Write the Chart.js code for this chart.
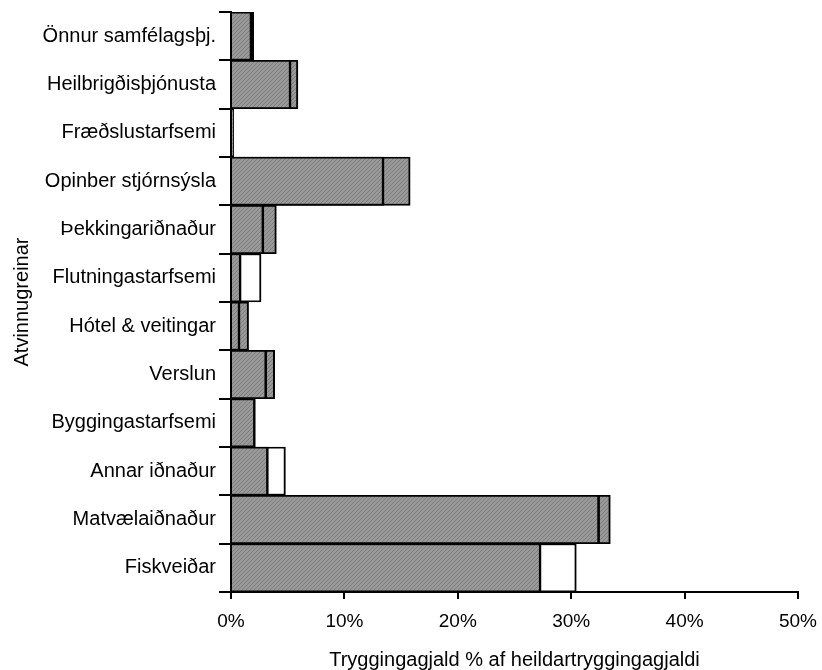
<!DOCTYPE html>
<html>
<head>
<meta charset="utf-8">
<script src="https://cdn.jsdelivr.net/npm/chart.js@4/dist/chart.umd.min.js"></script>
<style>
  html, body { margin: 0; padding: 0; background: #ffffff; }
  #wrap { width: 822px; height: 670px; }
</style>
</head>
<body>
<div id="wrap"><canvas id="c" width="822" height="670"></canvas></div>
<script>
// ---- data ----
const categories = ['Önnur samfélagsþj.', 'Heilbrigðisþjónusta', 'Fræðslustarfsemi', 'Opinber stjórnsýsla',
  'Þekkingariðnaður', 'Flutningastarfsemi', 'Hótel & veitingar', 'Verslun', 'Byggingastarfsemi',
  'Annar iðnaður', 'Matvælaiðnaður', 'Fiskveiðar'];
const seriesFront = [1.85, 5.3, 0.2, 13.5, 2.9, 0.9, 0.8, 3.15, 2.15, 3.3, 32.5, 27.35];
const seriesBack  = [2.0, 5.9, 0.25, 15.8, 4.0, 2.65, 1.55, 3.85, 2.05, 4.8, 33.45, 30.45];
const xTicks = [0, 10, 20, 30, 40, 50];
const xTitle = 'Tryggingagjald % af heildartryggingagjaldi';
const yTitle = 'Atvinnugreinar';

// ---- styles ----
function hatch() {
  const t = document.createElement('canvas');
  t.width = 4; t.height = 4;
  const g = t.getContext('2d');
  g.fillStyle = '#999999';
  g.fillRect(0, 0, 4, 4);
  g.fillStyle = '#7e7e7e';
  for (let i = 0; i < 4; i++) g.fillRect(i, 3 - i, 1, 1);
  return g.createPattern(t, 'repeat');
}
const pat = hatch();
const whiteBack = ['Flutningastarfsemi', 'Annar iðnaður', 'Fiskveiðar'];
const backColors = categories.map(c => whiteBack.includes(c) ? '#ffffff' : pat);
const FONT = "'Liberation Sans', Arial, sans-serif";

new Chart(document.getElementById('c'), {
  type: 'bar',
  data: {
    labels: categories,
    datasets: [
      {
        label: 'A',
        data: seriesFront,
        backgroundColor: pat,
        borderColor: '#000000',
        borderWidth: { top: 1.8, bottom: 1.8, right: 2.6, left: 0 },
        borderSkipped: 'start',
        grouped: false,
        order: 0,
        categoryPercentage: 1,
        barPercentage: 1
      },
      {
        label: 'B',
        data: seriesBack,
        backgroundColor: backColors,
        borderColor: '#000000',
        borderWidth: { top: 1.8, bottom: 1.8, right: 2, left: 0 },
        borderSkipped: 'start',
        grouped: false,
        order: 1,
        categoryPercentage: 1,
        barPercentage: 1
      }
    ]
  },
  options: {
    indexAxis: 'y',
    responsive: false,
    animation: false,
    layout: { padding: { top: 12, right: 24, left: 0, bottom: 0 } },
    plugins: { legend: { display: false }, tooltip: { enabled: false } },
    scales: {
      x: {
        min: 0, max: 50,
        afterFit: s => { s.height = 78; s.paddingLeft = 0; s.paddingRight = 0; },
        afterBuildTicks: s => { s.ticks = xTicks.map(v => ({ value: v })); },
        ticks: {
          callback: v => v + '%',
          color: '#000', padding: 11, maxRotation: 0,
          font: { family: FONT, size: 19 }
        },
        grid: { drawOnChartArea: false, drawTicks: true, tickLength: 7, color: '#000', lineWidth: 2 },
        border: { display: true, color: '#000', width: 2 },
        title: {
          display: true, text: xTitle, color: '#000',
          font: { family: FONT, size: 20 }, padding: { top: 0, bottom: -2 }
        }
      },
      y: {
        afterFit: s => { s.width = 231; s.paddingTop = 0; s.paddingBottom = 0; },
        ticks: { color: '#000', padding: 3, font: { family: FONT, size: 20 } },
        grid: { drawOnChartArea: false, drawTicks: true, tickLength: 12, color: '#000', lineWidth: 2, offset: true },
        border: { display: true, color: '#000', width: 2 },
        title: {
          display: true, text: yTitle, color: '#000',
          font: { family: FONT, size: 20 }, padding: { top: 10, bottom: 0 }
        }
      }
    }
  }
});
</script>
</body>
</html>
